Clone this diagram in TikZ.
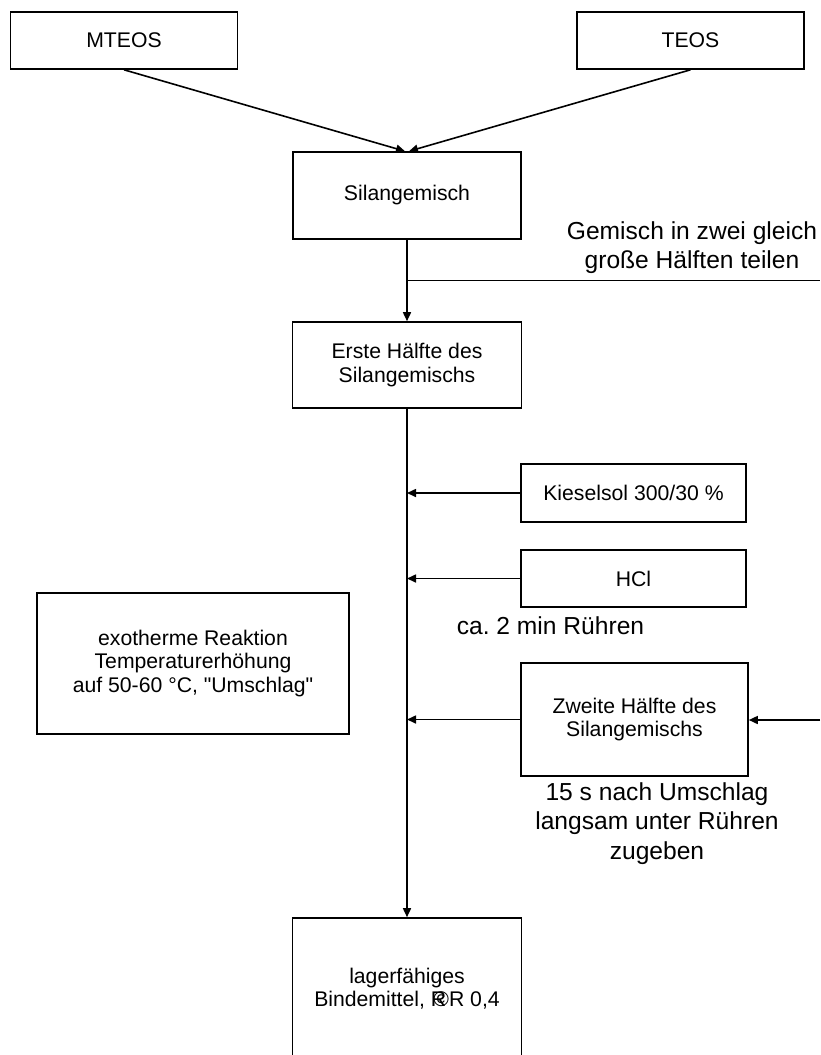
\documentclass[tikz,border=0pt]{standalone}
\usepackage{fontspec}
\setmainfont{Liberation Sans}
\frenchspacing
\usetikzlibrary{positioning, arrows.meta}
\tikzset{
    on grid,
    >={Triangle[length=9pt,width=8pt]},
    kasten/.style={draw, line width=1.6pt, align=center, inner sep=0pt,
        font=\fontsize{21.2}{23.5}\selectfont},
    notiz/.style={align=center, inner sep=0pt, font=\fontsize{24.6}{29.5}\selectfont},
}

\begin{document}
\begin{tikzpicture}[x=1pt, y=-1pt, line width=1.6pt]
    \useasboundingbox (0,0) rectangle (820,1055);
    \clip (0,0) rectangle (820,1055);

        \node[kasten, minimum width=227pt, minimum height=57pt] (mteos) at (124,40.5) {MTEOS};
        \node[kasten, minimum width=227pt, minimum height=57pt, right=566.5pt of mteos] (teos) {TEOS};
        \node[kasten, minimum width=228pt, minimum height=87pt] (silan) at (407,195.5) {Silangemisch};
        \node[kasten, minimum width=229pt, minimum height=86pt, below=169.5pt of silan] (erste) {Erste Hälfte des\\Silangemischs};
        \node[kasten, minimum width=225pt, minimum height=58pt] (kiesel) at (633.5,493) {Kieselsol 300/30 \%};
        \node[kasten, minimum width=225pt, minimum height=57pt, below=85.5pt of kiesel] (hcl) {HCl};
        \node[kasten, minimum width=227pt, minimum height=113pt] (zweite) at (634.5,719.5) {Zweite Hälfte des\\Silangemischs};
        \node[kasten, minimum width=312pt, minimum height=141pt] (exo) at (193,663.5) {exotherme Reaktion\\Temperaturerhöhung\\auf 50-60 °C, \textquotedbl Umschlag\textquotedbl};
        \node[kasten, minimum width=229pt, minimum height=141pt, below=623.5pt of erste] (binde) {lagerfähiges\\Bindemittel, \rlap{R}\kern0.12em©R 0,4};

        % Beschriftungen
        \node[notiz] (teilen) at (692,247.5) {Gemisch in zwei gleich\\große Hälften teilen};
        \node[notiz] (ruehren) at (550.5,626) {ca. 2 min Rühren};
        \node[notiz] (zugabe) at (657,823.5) {15 s nach Umschlag\\langsam unter Rühren\\zugeben};

        \coordinate (teilung) at (407,280.5);
        \coordinate (rand) at (820,280.5);
        \coordinate (zufuhr) at (820,720);

    \draw[->] (mteos.south) -- ([xshift=-2pt]silan.north);
    \draw[->] (teos.south) -- ([xshift=2pt]silan.north);
    \draw[->] (silan) -- (erste);
    \draw (teilung) -- (rand);
    \draw[->] (erste) -- (binde);
    \draw[->] (kiesel.west) -- (kiesel.west -| erste.south);
    \draw[->] (hcl.west) -- (hcl.west -| erste.south);
    \draw[->] (zweite.west) -- (zweite.west -| erste.south);
    \draw[->] (zufuhr) -- (zweite.east |- zufuhr);
\end{tikzpicture}
\end{document}
